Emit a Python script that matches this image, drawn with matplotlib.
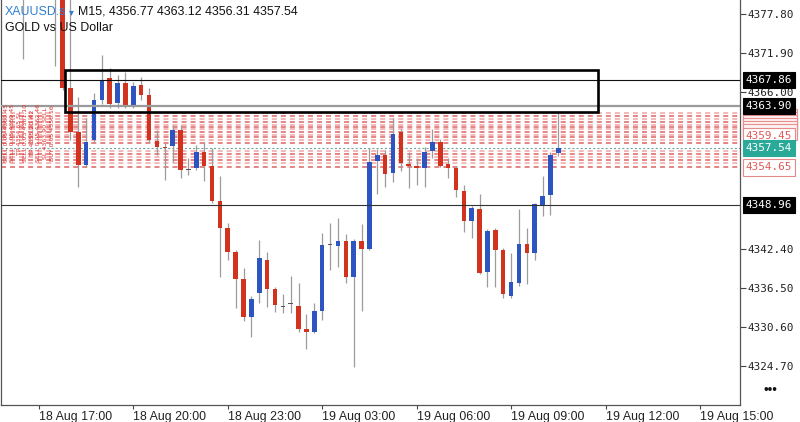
import matplotlib
matplotlib.use('Agg')
import matplotlib.pyplot as plt
from matplotlib.patches import Rectangle
from matplotlib.transforms import blended_transform_factory

plt.rcParams['lines.scale_dashes'] = False

# ---------------- data ----------------
symbol = "XAUUSD.s"
header_rest = "M15, 4356.77 4363.12 4356.31 4357.54"
subtitle = "GOLD vs US Dollar"

candle_idx = [-5, -1] + list(range(0, 64))
opens = [4386.0, 4385.0,
         4382.5, 4366.64, 4360.00, 4355.02, 4358.79, 4364.83, 4368.15, 4364.38,
         4367.39, 4363.92, 4367.09, 4365.58, 4358.69, 4357.74, 4357.89, 4360.30,
         4354.27, 4354.57, 4356.98, 4354.87, 4349.59, 4345.52, 4341.90, 4337.83,
         4332.10, 4335.72, 4340.69, 4336.32, 4333.65, 4334.10, 4333.76, 4330.28,
         4329.83, 4333.00, 4342.99, 4342.81, 4343.56, 4338.13, 4343.56, 4342.35,
         4355.63, 4356.53, 4353.82, 4360.00, 4355.17, 4354.87, 4354.57, 4357.14,
         4358.49, 4355.17, 4354.57, 4351.10, 4346.58, 4348.39, 4338.88, 4345.22,
         4342.20, 4335.26, 4337.23, 4343.11, 4341.75, 4348.99, 4350.50, 4356.77]
highs = [4388.0, 4387.0,
         4384.0, 4380.50, 4365.28, 4362.11, 4365.88, 4371.61, 4369.65, 4368.60,
         4369.05, 4367.54, 4368.30, 4366.64, 4360.30, 4358.34, 4361.06, 4361.06,
         4356.08, 4358.04, 4358.49, 4357.59, 4353.36, 4346.28, 4342.20, 4339.49,
         4335.26, 4343.71, 4341.90, 4336.62, 4335.57, 4338.28, 4337.23, 4332.55,
         4334.21, 4344.77, 4346.28, 4347.03, 4344.62, 4343.86, 4346.12, 4357.59,
         4357.44, 4357.29, 4362.11, 4360.45, 4356.98, 4356.08, 4357.74, 4360.45,
         4358.95, 4356.08, 4354.87, 4352.01, 4348.84, 4350.65, 4345.37, 4345.52,
         4342.50, 4341.75, 4348.39, 4345.52, 4349.29, 4353.36, 4356.98, 4363.12]
lows = [4371.0, 4369.9,
        4366.34, 4358.79, 4351.70, 4354.72, 4358.49, 4364.22, 4363.62, 4363.62,
        4363.62, 4363.62, 4364.83, 4358.49, 4356.53, 4352.76, 4355.48, 4353.06,
        4353.52, 4354.27, 4352.61, 4349.29, 4338.13, 4340.69, 4333.46, 4331.49,
        4329.08, 4334.21, 4333.61, 4332.85, 4332.70, 4332.70, 4329.83, 4327.27,
        4329.68, 4331.64, 4339.19, 4339.64, 4337.23, 4324.55, 4333.00, 4342.20,
        4350.65, 4351.70, 4352.46, 4354.12, 4351.55, 4352.01, 4351.70, 4356.08,
        4354.72, 4353.06, 4350.20, 4344.92, 4344.01, 4338.58, 4336.62, 4336.62,
        4334.96, 4334.96, 4336.77, 4337.07, 4340.69, 4347.33, 4347.48, 4356.31]
closes = [4385.0, 4383.0,
          4366.64, 4360.00, 4355.02, 4358.49, 4364.83, 4367.69, 4364.22, 4367.39,
          4364.07, 4366.94, 4365.58, 4358.79, 4357.69, 4357.60, 4360.30, 4354.27,
          4354.20, 4356.98, 4354.87, 4349.59, 4345.52, 4341.90, 4337.83, 4332.10,
          4334.81, 4341.00, 4336.32, 4333.91, 4333.61, 4334.06, 4330.28, 4329.83,
          4333.00, 4342.96, 4342.96, 4343.56, 4338.13, 4343.56, 4342.35, 4355.48,
          4356.53, 4353.67, 4359.70, 4355.33, 4354.87, 4354.57, 4356.98, 4358.49,
          4354.87, 4354.57, 4351.25, 4346.58, 4348.54, 4338.73, 4345.07, 4342.20,
          4335.57, 4337.38, 4343.11, 4341.75, 4349.14, 4350.39, 4356.53, 4357.54]

tick_pos = [-3, 9, 21, 33, 45, 57, 69, 81]
tick_labels = ["18 Aug 17:00", "18 Aug 20:00", "18 Aug 23:00", "19 Aug 03:00",
               "19 Aug 06:00", "19 Aug 09:00", "19 Aug 12:00", "19 Aug 15:00"]
price_ticks = [4377.80, 4371.90, 4366.00, 4342.40, 4336.50, 4330.60, 4324.70]

line_upper = 4367.86
line_mid = 4363.90
line_lower = 4348.96
current_price = 4357.54
box_x = [0.32, 68.04]
box_y = [4362.95, 4369.35]

dashed_levels = [4362.87, 4362.34, 4361.89, 4361.51, 4361.13, 4360.76, 4360.38,
                 4360.00, 4359.62, 4359.25, 4358.79, 4358.34, 4357.06, 4356.61,
                 4356.16, 4355.71, 4355.26, 4354.65]
stack_levels = [4362.30, 4361.85, 4361.40, 4360.95, 4360.50, 4360.05]
partial_label = 4359.45
bottom_label = 4354.65

side_texts = ["SELL 0.05 4360.45", "SELL 0.05 4359.45", "TP 4354.65 SL",
              "SELL 0.03 4361.10", "TP 4355.20 #2", "SELL 0.05 4362.46",
              "SL 4363.90 SELL", "BUY 0.05 4356.16"]
side_px = [5, 11.5, 18, 24.5, 31, 37.5, 44, 51]

# ---------------- figure ----------------
W, H = 800, 422
fig = plt.figure(figsize=(W / 100, H / 100), dpi=100)
ax = fig.add_axes([0.0015, 0.0403, 0.925 - 0.0015, 0.9597])
ax.set_xlim(-7.79, 86.09)
ax.set_ylim(4318.82, 4379.91)

blue = '#2c55c2'
red = '#d1331f'
wick = '#9c9c9c'

for i, o, h, l, c in zip(candle_idx, opens, highs, lows, closes):
    ax.vlines(i, l, h, color=wick, lw=0.9, zorder=2)
    if abs(c - o) < 0.1:
        col = '#555555'
    else:
        col = blue if c > o else red
    ax.bar(i, max(abs(c - o), 0.16), bottom=min(o, c), width=0.58,
           color=col, linewidth=0, zorder=3)

# dashed level lines
for j, lv in enumerate(dashed_levels):
    col = '#e37b7b' if j % 2 else '#f3b3b3'
    ax.axhline(lv, color=col, lw=1.3, dashes=(3.6, 2.9), zorder=1)

ax.axhline(current_price, color='#6fa3a3', lw=0.8, dashes=(1.5, 1.5), zorder=1.5)
ax.axhline(line_upper, color='#111111', lw=0.8, zorder=4)
ax.axhline(line_mid, color='#9a9a9a', lw=1.6, zorder=4)
ax.axhline(line_lower, color='#333333', lw=0.8, zorder=4)
ax.add_patch(Rectangle((box_x[0], box_y[0]), box_x[1] - box_x[0], box_y[1] - box_y[0],
                       fill=False, lw=1.9, ec='black', zorder=5))

# vertical red text on the left
btr = blended_transform_factory(ax.transAxes, ax.transData)
for s, px in zip(side_texts, side_px):
    ax.text(px / 740, 4359.9, s, rotation=90, ha='center', va='center',
            fontsize=4.5, color='#e03030', transform=btr, zorder=6,
            family='DejaVu Sans')

# axes styling
ax.spines['top'].set_visible(False)
for sp in ['left', 'right', 'bottom']:
    ax.spines[sp].set_color('#555555')
    ax.spines[sp].set_linewidth(0.9)

ax.yaxis.tick_right()
ax.set_yticks(price_ticks)
ax.set_yticklabels([f"{p:.2f}" for p in price_ticks], family='DejaVu Sans Mono',
                   fontsize=7.9, color='#222222')
ax.tick_params(axis='y', direction='out', length=4, pad=1.5, color='#444444', width=0.8)

ax.set_xticks(tick_pos)
ax.set_xticklabels(tick_labels, family=['Liberation Sans', 'DejaVu Sans'],
                   fontsize=8.9, color='#222222')
for lb in ax.get_xticklabels():
    lb.set_ha('left')
ax.tick_params(axis='x', direction='out', length=3, pad=1.0, color='#444444', width=0.8)

# right side price labels
lab_kw = dict(transform=btr, ha='left', va='center', family='DejaVu Sans Mono',
              fontsize=7.9, clip_on=False)
box_w = 54 / 739
box_h = 16 * (4379.91 - 4318.82) / 405
z = 10
for lv in stack_levels:
    ax.add_patch(Rectangle((1.0045, lv - box_h / 2), box_w, box_h, transform=btr,
                           clip_on=False, fc='#fdf1f1', ec='#e89090', lw=0.8, zorder=z))
    z += 1
ax.text(1.008, partial_label, f"{partial_label:.2f}", color='#e05a5a', zorder=z,
        bbox=dict(boxstyle='square,pad=0.28', fc='white', ec='#e58a8a', lw=0.8),
        **lab_kw)
z += 1
ax.text(1.008, bottom_label, f"{bottom_label:.2f}", color='#e05a5a', zorder=z,
        bbox=dict(boxstyle='square,pad=0.28', fc='white', ec='#e58a8a', lw=0.8),
        **lab_kw)
z += 1
ax.text(1.008, current_price, f"{current_price:.2f}", color='white', zorder=z,
        bbox=dict(boxstyle='square,pad=0.28', fc='#2aa898', ec='#2aa898', lw=0.8),
        **lab_kw)
z += 1
for lv in [line_upper, line_mid, line_lower]:
    ax.text(1.008, lv, f"{lv:.2f}", color='white', zorder=z,
            bbox=dict(boxstyle='square,pad=0.28', fc='black', ec='black', lw=0.8),
            **lab_kw)

# header
hf = ['Liberation Sans', 'DejaVu Sans']
fig.text(5 / W, 1 - 12 / H, symbol, color='#2f7fd0', fontsize=8.9, family=hf,
         va='center', ha='left')
fig.text(69 / W, 1 - 12.5 / H, "\u25be", color='#2f7fd0', fontsize=7, family=hf,
         va='center', ha='left')
fig.text(78 / W, 1 - 12 / H, header_rest, color='#111111', fontsize=8.9, family=hf,
         va='center', ha='left')
fig.text(5 / W, 1 - 28 / H, subtitle, color='#111111', fontsize=8.9, family=hf,
         va='center', ha='left')
fig.text(770 / W, 1 - 391 / H, "\u2022\u2022\u2022", color='#111111', fontsize=9.5,
         family=hf, va='center', ha='center')

fig.savefig('out.png', dpi=100)
